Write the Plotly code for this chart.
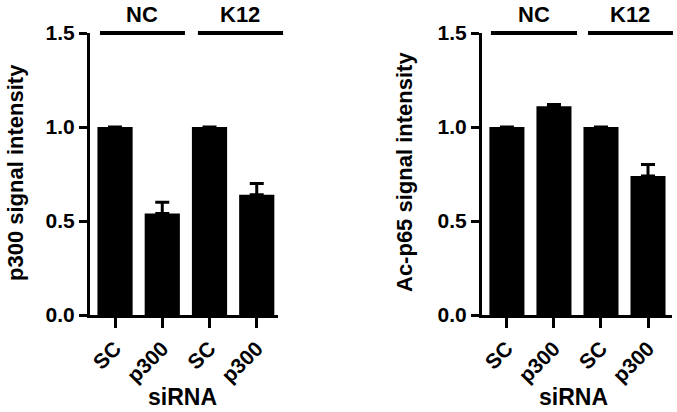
import plotly.graph_objects as go

categories = ["SC", "p300", "SC ", "p300 "]
tick_labels = ["SC", "p300", "SC", "p300"]
groups = ["NC", "K12"]
p300_values = [1.0, 0.54, 1.0, 0.64]
p300_err = [0.0, 0.06, 0.0, 0.06]
acp65_values = [1.0, 1.11, 1.0, 0.74]
acp65_err = [0.0, 0.01, 0.0, 0.06]
y_title_left = "p300 signal intensity"
y_title_right = "Ac-p65 signal intensity"
x_title = "siRNA"

FONT = "Liberation Sans, Arial, sans-serif"
xpos = list(range(len(categories)))

W, H = 677, 412


def px(x):
    return x / W


def py(y):
    return 1 - y / H


fig = go.Figure()
for vals, errs, xa, ya in [(p300_values, p300_err, "x", "y"), (acp65_values, acp65_err, "x2", "y2")]:
    fig.add_trace(go.Bar(
        x=xpos, y=vals, xaxis=xa, yaxis=ya,
        marker=dict(color="black", line=dict(width=0)),
        error_y=dict(type="data", array=errs, arrayminus=[0] * len(errs), symmetric=False,
                     color="black", thickness=3, width=7),
        showlegend=False, hoverinfo="skip",
    ))

axis_common_x = dict(
    tickmode="array", tickvals=xpos, ticktext=tick_labels, tickangle=-45,
    showline=True, linecolor="black", linewidth=3, ticks="outside", ticklen=10,
    tickwidth=3, tickcolor="black", showgrid=False, zeroline=False, automargin=False,
    tickfont=dict(family=FONT, size=21, color="black", weight="bold"),
)
axis_common_y = dict(
    range=[0, 1.5], tickvals=[0, 0.5, 1.0, 1.5], ticktext=["0.0", "0.5", "1.0", "1.5"],
    showline=True, linecolor="black", linewidth=3, ticks="outside", ticklen=8,
    tickwidth=3, tickcolor="black", showgrid=False, zeroline=False, automargin=False,
    tickfont=dict(family=FONT, size=21, color="black", weight="bold"),
)

ydom = [py(315), py(33)]
fig.update_layout(
    width=W, height=H,
    margin=dict(l=0, r=0, t=0, b=0),
    paper_bgcolor="white", plot_bgcolor="white",
    bargap=0.255,
    xaxis=dict(domain=[px(90), px(278)], range=[-0.53, 3.45], anchor="y", **axis_common_x),
    yaxis=dict(domain=ydom, anchor="x", **axis_common_y),
    xaxis2=dict(domain=[px(482), px(672)], range=[-0.53, 3.51], anchor="y2", **axis_common_x),
    yaxis2=dict(domain=ydom, anchor="x2", **axis_common_y),
)

# group bars over the categories
line_spans = {
    "x": [(0.053, 0.505), (0.574, 1.027)],
    "x2": [(0.047, 0.50), (0.558, 1.005)],
}
yref_map = {"x": "y domain", "x2": "y2 domain"}
for xa, spans in line_spans.items():
    for (x0, x1), g in zip(spans, groups):
        fig.add_shape(type="line", xref=xa + " domain", yref=yref_map[xa],
                      x0=x0, x1=x1, y0=1, y1=1, line=dict(color="black", width=4))
        fig.add_annotation(text=g, xref=xa + " domain", yref="paper",
                           x=(x0 + x1) / 2, y=1, xanchor="center", yanchor="top",
                           showarrow=False,
                           font=dict(family=FONT, size=22, color="black", weight="bold"))

title_font = dict(family=FONT, size=22, color="black", weight="bold")
fig.add_annotation(text=y_title_left, textangle=-90, xref="paper", yref="paper",
                   x=px(16), y=py(173), xanchor="center", yanchor="middle",
                   showarrow=False, font=title_font)
fig.add_annotation(text=y_title_right, textangle=-90, xref="paper", yref="paper",
                   x=px(404), y=py(172), xanchor="center", yanchor="middle",
                   showarrow=False, font=title_font)
for xc in [182, 573]:
    fig.add_annotation(text=x_title, xref="paper", yref="paper",
                       x=px(xc), y=py(397), xanchor="center", yanchor="middle",
                       showarrow=False, font=dict(family=FONT, size=23, color="black", weight="bold"))

# remove the browser's default 8px page margin so the 677x412 figure fills the window
fig.write_html("out.html", config={"displayModeBar": False},
               post_script="document.body.style.margin='0';")
